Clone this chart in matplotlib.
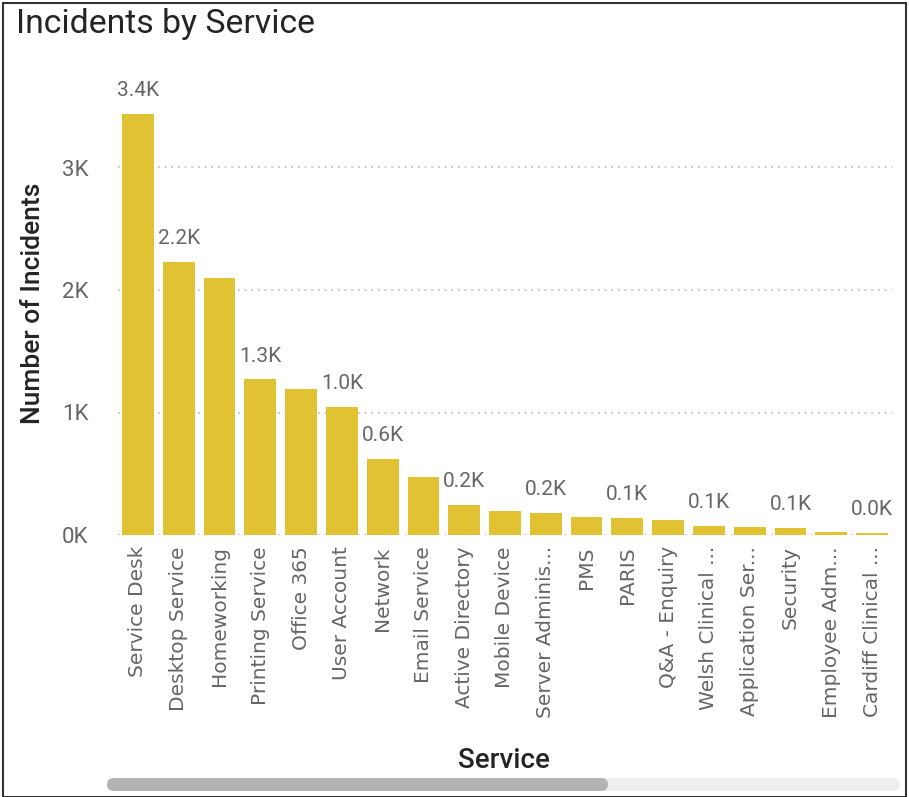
import matplotlib
matplotlib.use("Agg")
import matplotlib.pyplot as plt
from matplotlib.patches import FancyBboxPatch, Rectangle
from matplotlib.ticker import FuncFormatter

services = ["Service Desk", "Desktop Service", "Homeworking", "Printing Service",
            "Office 365", "User Account", "Network", "Email Service",
            "Active Directory", "Mobile Device", "Server Adminis...", "PMS", "PARIS",
            "Q&A - Enquiry", "Welsh Clinical ...", "Application Ser...", "Security",
            "Employee Adm...", "Cardiff Clinical ..."]
incidents = [3440, 2230, 2100, 1270, 1190, 1045, 620, 470,
             245, 196, 180, 150, 140, 120, 76, 68, 60, 27, 19]
# Power BI hides overlapping labels; these indices show a data label
labeled = [0, 1, 3, 5, 6, 8, 10, 12, 14, 16, 18]

W, H = 909, 797
fig = plt.figure(figsize=(W / 100, H / 100), dpi=100)

left, right = 117.6, 892.4
y0, ytop = 535, 60
px_per_k = 122.5
ymax = (y0 - ytop) / px_per_k * 1000
ax = fig.add_axes([left / W, 1 - y0 / H, (right - left) / W, (y0 - ytop) / H])

x = range(len(services))
ax.bar(x, incidents, width=0.78, color="#E1C233", zorder=3)
ax.set_xlim(-0.5, len(services) - 0.5)
ax.set_ylim(0, ymax)

for i in labeled:
    v = incidents[i]
    ax.annotate(f"{v/1000:.1f}K", (i, v), xytext=(0, 10), textcoords="offset points",
                ha="center", va="bottom", fontsize=15, color="#666666",
                family="Roboto", annotation_clip=False)

ax.set_yticks([0, 1000, 2000, 3000])
ax.yaxis.set_major_formatter(FuncFormatter(lambda v, p: f"{v/1000:.0f}K"))
ax.grid(axis="y", linestyle=(0, (1, 3)), color="#BBBBBB", linewidth=1.2, zorder=0)
for s in ax.spines.values():
    s.set_visible(False)
ax.tick_params(axis="both", length=0)
ax.tick_params(axis="y", labelsize=16, labelcolor="#666666", pad=21)
for t in ax.get_yticklabels():
    t.set_family("Roboto")

ax.set_xticks(list(x))
ax.set_xticklabels(services, rotation=90, fontsize=14.5, color="#666666",
                   family="DejaVu Sans", ha="center", va="top")
ax.tick_params(axis="x", pad=8)

fig.text(33 / W, 1 - 303 / H, "Number of Incidents", rotation=90, ha="center",
         va="center", fontsize=19, color="#252423", family="Roboto", fontweight="medium")
fig.text(504 / W, 1 - 760 / H, "Service", ha="center", va="center", fontsize=20,
         color="#252423", family="Roboto", fontweight="medium")
fig.text(16 / W, 1 - 24 / H, "Incidents by Service", ha="left", va="center",
         fontsize=24.3, color="#252423", family="Roboto")

# scrollbar
fig.patches.append(FancyBboxPatch((107 / W, 1 - 791 / H), (900 - 107) / W, 13 / H,
                                  boxstyle="round,pad=0,rounding_size=0.008",
                                  transform=fig.transFigure, facecolor="#EEEEEE",
                                  edgecolor="none"))
fig.patches.append(FancyBboxPatch((107 / W, 1 - 791 / H), (608 - 107) / W, 13 / H,
                                  boxstyle="round,pad=0,rounding_size=0.008",
                                  transform=fig.transFigure, facecolor="#B3B3B3",
                                  edgecolor="none"))
# frame
fig.patches.append(Rectangle((2.5 / W, 0), (906 - 2.5) / W, 1 - 2.5 / H,
                             transform=fig.transFigure, fill=False,
                             edgecolor="#333333", linewidth=1.5))

fig.savefig("out.png", dpi=100)
